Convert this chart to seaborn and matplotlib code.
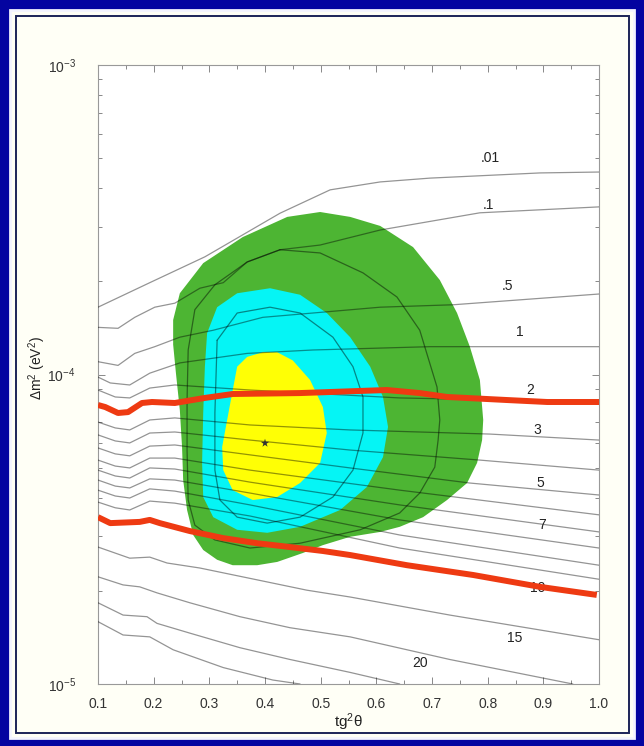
import matplotlib
matplotlib.use("Agg")
import matplotlib.pyplot as plt
from matplotlib.patches import Rectangle
from matplotlib.ticker import FixedLocator, LogLocator, NullFormatter
import seaborn as sns

# ---- iso-lines of the asymmetry (%), tg^2(theta) vs Delta m^2 [eV^2] ----
iso_001_x = [0.100, 0.193, 0.292, 0.427, 0.517, 0.607, 0.696, 0.894, 1.000]
iso_001_y = [1.65e-4, 1.98e-4, 2.40e-4, 3.32e-4, 3.95e-4, 4.19e-4, 4.31e-4, 4.48e-4, 4.51e-4]

iso_01_x = [0.100, 0.136, 0.166, 0.202, 0.238, 0.283, 0.325, 0.368, 0.427, 0.499, 0.607, 0.786, 1.000]
iso_01_y = [1.42e-4, 1.41e-4, 1.53e-4, 1.65e-4, 1.70e-4, 1.90e-4, 1.98e-4, 2.31e-4, 2.53e-4,
            2.62e-4, 2.93e-4, 3.33e-4, 3.48e-4]

iso_05_x = [0.100, 0.136, 0.166, 0.202, 0.247, 0.307, 0.396, 0.486, 0.607, 0.738, 1.000]
iso_05_y = [1.10e-4, 1.07e-4, 1.17e-4, 1.23e-4, 1.32e-4, 1.39e-4, 1.53e-4, 1.58e-4, 1.65e-4,
            1.68e-4, 1.82e-4]

iso_1_x = [0.100, 0.122, 0.157, 0.193, 0.247, 0.368, 0.486, 0.696, 1.000]
iso_1_y = [9.81e-5, 9.39e-5, 9.25e-5, 1.01e-4, 1.09e-4, 1.17e-4, 1.20e-4, 1.23e-4, 1.23e-4]

iso_2_x = [0.100, 0.131, 0.157, 0.193, 0.238, 0.373, 0.642, 1.000]
iso_2_y = [8.91e-5, 8.46e-5, 8.40e-5, 9.04e-5, 9.25e-5, 8.91e-5, 8.40e-5, 8.15e-5]

iso_3_x = [0.100, 0.131, 0.157, 0.193, 0.238, 0.373, 0.553, 0.804, 1.000]
iso_3_y = [7.02e-5, 6.72e-5, 6.62e-5, 7.13e-5, 7.24e-5, 6.87e-5, 6.62e-5, 6.42e-5, 6.14e-5]

iso_4_x = [0.100, 0.131, 0.157, 0.193, 0.238, 0.373, 0.553, 0.786, 1.000]
iso_4_y = [6.38e-5, 6.10e-5, 6.01e-5, 6.47e-5, 6.52e-5, 6.14e-5, 5.70e-5, 5.29e-5, 4.91e-5]

iso_5_x = [0.100, 0.131, 0.157, 0.193, 0.238, 0.373, 0.553, 0.768, 1.000]
iso_5_y = [5.79e-5, 5.54e-5, 5.46e-5, 5.87e-5, 5.92e-5, 5.50e-5, 4.99e-5, 4.46e-5, 4.08e-5]

iso_6_x = [0.100, 0.131, 0.157, 0.193, 0.238, 0.373, 0.642, 1.000]
iso_6_y = [5.29e-5, 5.06e-5, 4.99e-5, 5.37e-5, 5.37e-5, 4.91e-5, 4.23e-5, 3.52e-5]

iso_7_x = [0.100, 0.131, 0.157, 0.193, 0.238, 0.373, 0.642, 1.000]
iso_7_y = [4.91e-5, 4.70e-5, 4.63e-5, 4.99e-5, 4.95e-5, 4.49e-5, 3.79e-5, 3.10e-5]

iso_8_x = [0.100, 0.131, 0.157, 0.193, 0.238, 0.373, 0.642, 1.000]
iso_8_y = [4.56e-5, 4.36e-5, 4.30e-5, 4.60e-5, 4.56e-5, 4.14e-5, 3.39e-5, 2.75e-5]

iso_9_x = [0.100, 0.131, 0.157, 0.193, 0.238, 0.373, 0.642, 1.000]
iso_9_y = [4.23e-5, 4.05e-5, 3.99e-5, 4.27e-5, 4.20e-5, 3.79e-5, 3.03e-5, 2.42e-5]

iso_10_x = [0.100, 0.131, 0.157, 0.193, 0.238, 0.373, 0.642, 1.000]
iso_10_y = [3.87e-5, 3.71e-5, 3.65e-5, 3.90e-5, 3.84e-5, 3.49e-5, 2.75e-5, 2.18e-5]

iso_15_x = [0.100, 0.157, 0.193, 0.224, 0.283, 0.386, 0.475, 0.553, 0.732, 1.000]
iso_15_y = [2.77e-5, 2.55e-5, 2.57e-5, 2.46e-5, 2.37e-5, 2.17e-5, 2.01e-5, 1.91e-5, 1.67e-5, 1.39e-5]

iso_20_x = [0.100, 0.145, 0.175, 0.206, 0.265, 0.355, 0.445, 0.553, 0.732, 0.953]
iso_20_y = [2.22e-5, 2.09e-5, 2.06e-5, 1.97e-5, 1.83e-5, 1.65e-5, 1.52e-5, 1.42e-5, 1.20e-5, 1.00e-5]

iso_25_x = [0.100, 0.145, 0.188, 0.206, 0.265, 0.355, 0.445, 0.553, 0.642]
iso_25_y = [1.83e-5, 1.67e-5, 1.65e-5, 1.57e-5, 1.46e-5, 1.31e-5, 1.20e-5, 1.09e-5, 1.00e-5]

iso_30_x = [0.100, 0.145, 0.193, 0.235, 0.325, 0.414, 0.463]
iso_30_y = [1.59e-5, 1.44e-5, 1.42e-5, 1.29e-5, 1.13e-5, 1.03e-5, 1.00e-5]

iso_lines = [
    (iso_001_x, iso_001_y), (iso_01_x, iso_01_y), (iso_05_x, iso_05_y), (iso_1_x, iso_1_y),
    (iso_2_x, iso_2_y), (iso_3_x, iso_3_y), (iso_4_x, iso_4_y), (iso_5_x, iso_5_y),
    (iso_6_x, iso_6_y), (iso_7_x, iso_7_y), (iso_8_x, iso_8_y), (iso_9_x, iso_9_y),
    (iso_10_x, iso_10_y), (iso_15_x, iso_15_y), (iso_20_x, iso_20_y), (iso_25_x, iso_25_y),
    (iso_30_x, iso_30_y),
]

# iso-line labels and where they sit
iso_labels = [".01", ".1", ".5", "1", "2", "3", "5", "7", "10", "15", "20"]
iso_label_x = [0.804, 0.801, 0.836, 0.858, 0.876, 0.890, 0.894, 0.898, 0.889, 0.849, 0.678]
iso_label_y = [5.00e-4, 3.53e-4, 1.93e-4, 1.37e-4, 8.91e-5, 6.62e-5, 4.46e-5, 3.26e-5, 2.04e-5,
               1.41e-5, 1.17e-5]

# ---- allowed regions (outer to inner) ----
region_99_x = [0.499, 0.553, 0.607, 0.666, 0.714, 0.745, 0.768, 0.786, 0.792, 0.790, 0.781,
               0.763, 0.727, 0.684, 0.642, 0.607, 0.553, 0.504, 0.468, 0.422, 0.386, 0.342,
               0.314, 0.289, 0.271, 0.260, 0.253, 0.251, 0.247, 0.240, 0.235, 0.235, 0.247,
               0.289, 0.360, 0.440]
region_99_y = [3.35e-4, 3.23e-4, 3.02e-4, 2.58e-4, 2.02e-4, 1.58e-4, 1.23e-4, 9.60e-5, 7.13e-5,
               6.14e-5, 5.18e-5, 4.46e-5, 3.93e-5, 3.46e-5, 3.22e-5, 3.10e-5, 2.99e-5, 2.81e-5,
               2.65e-5, 2.48e-5, 2.42e-5, 2.42e-5, 2.52e-5, 2.71e-5, 3.03e-5, 3.65e-5, 4.56e-5,
               5.83e-5, 7.68e-5, 1.01e-4, 1.25e-4, 1.50e-4, 1.83e-4, 2.29e-4, 2.78e-4, 3.23e-4]

region_95_x = [0.296, 0.314, 0.350, 0.409, 0.463, 0.511, 0.553, 0.589, 0.612, 0.621, 0.612,
               0.583, 0.535, 0.463, 0.404, 0.350, 0.307, 0.289, 0.287, 0.289, 0.292]
region_95_y = [1.36e-4, 1.65e-4, 1.83e-4, 1.90e-4, 1.81e-4, 1.58e-4, 1.32e-4, 1.06e-4, 8.46e-5,
               6.77e-5, 5.41e-5, 4.33e-5, 3.65e-5, 3.22e-5, 3.08e-5, 3.15e-5, 3.46e-5, 4.02e-5,
               5.18e-5, 7.51e-5, 1.06e-4]

region_68_x = [0.396, 0.368, 0.350, 0.341, 0.332, 0.323, 0.325, 0.342, 0.378, 0.422, 0.463,
               0.499, 0.511, 0.504, 0.481, 0.450, 0.422]
region_68_y = [1.18e-4, 1.14e-4, 1.06e-4, 8.71e-5, 7.13e-5, 5.83e-5, 4.91e-5, 4.23e-5, 3.93e-5,
               4.02e-5, 4.46e-5, 5.18e-5, 6.47e-5, 7.85e-5, 9.60e-5, 1.11e-4, 1.18e-4]

# intermediate confidence contours drawn as outlines
contour_a_x = [0.427, 0.499, 0.576, 0.637, 0.678, 0.709, 0.714, 0.711, 0.705, 0.678, 0.642,
               0.571, 0.463, 0.373, 0.310, 0.274, 0.262, 0.260, 0.260, 0.262, 0.274, 0.310,
               0.368, 0.427]
contour_a_y = [2.53e-4, 2.47e-4, 2.13e-4, 1.78e-4, 1.39e-4, 9.11e-5, 7.13e-5, 6.14e-5, 5.02e-5,
               4.14e-5, 3.57e-5, 3.15e-5, 2.85e-5, 2.75e-5, 2.92e-5, 3.26e-5, 3.93e-5, 5.70e-5,
               8.27e-5, 1.20e-4, 1.62e-4, 1.95e-4, 2.31e-4, 2.53e-4]

contour_b_x = [0.314, 0.350, 0.409, 0.463, 0.522, 0.558, 0.576, 0.576, 0.558, 0.522, 0.463,
               0.404, 0.350, 0.319, 0.310, 0.310, 0.314]
contour_b_y = [1.29e-4, 1.58e-4, 1.65e-4, 1.58e-4, 1.32e-4, 1.06e-4, 8.46e-5, 6.47e-5, 4.91e-5,
               4.02e-5, 3.46e-5, 3.31e-5, 3.46e-5, 3.93e-5, 4.91e-5, 7.51e-5, 1.29e-4]

best_fit_x = [0.40]
best_fit_y = [6.0e-5]

# ---- red bands ----
red_upper_x = [0.100, 0.113, 0.136, 0.154, 0.179, 0.197, 0.238, 0.292, 0.342, 0.463, 0.619,
               0.678, 0.727, 0.835, 0.907, 1.000]
red_upper_y = [7.97e-5, 7.85e-5, 7.51e-5, 7.56e-5, 8.09e-5, 8.15e-5, 8.09e-5, 8.40e-5, 8.65e-5,
               8.71e-5, 8.91e-5, 8.71e-5, 8.46e-5, 8.27e-5, 8.15e-5, 8.15e-5]

red_lower_x = [0.100, 0.122, 0.175, 0.193, 0.211, 0.265, 0.325, 0.386, 0.445, 0.504, 0.553,
               0.655, 0.774, 0.894, 0.996]
red_lower_y = [3.46e-5, 3.31e-5, 3.34e-5, 3.39e-5, 3.31e-5, 3.12e-5, 2.96e-5, 2.85e-5, 2.77e-5,
               2.69e-5, 2.61e-5, 2.42e-5, 2.25e-5, 2.06e-5, 1.94e-5]

x_ticks = [0.1, 0.2, 0.3, 0.4, 0.5, 0.6, 0.7, 0.8, 0.9, 1.0]
x_tick_labels = ["0.1", "0.2", "0.3", "0.4", "0.5", "0.6", "0.7", "0.8", "0.9", "1.0"]
y_ticks = [1e-5, 1e-4, 1e-3]
y_tick_labels = [r"$10^{-5}$", r"$10^{-4}$", r"$10^{-3}$"]

# ---------------------------------------------------------------------------
sns.set_theme(style="ticks")
plt.rcParams["font.family"] = ["Liberation Sans", "DejaVu Sans"]
plt.rcParams["mathtext.fontset"] = "custom"
plt.rcParams["mathtext.rm"] = "Liberation Sans"
plt.rcParams["mathtext.it"] = "Liberation Sans:italic"

W, H = 644, 746
fig = plt.figure(figsize=(W / 100, H / 100), dpi=100, facecolor="#0404a0")

# slide panel with its thin border lines (kept behind the axes)
fig.patches.append(Rectangle((10 / W, 8 / H), 624 / W, 728 / H, transform=fig.transFigure,
                             facecolor="#fffff6", edgecolor="#f4f4ff", lw=2.0, zorder=-3))
fig.patches.append(Rectangle((15.5 / W, 13 / H), 613 / W, 717 / H, transform=fig.transFigure,
                             facecolor="none", edgecolor="#1c2458", lw=1.4, zorder=-2))

ax = fig.add_axes([98 / W, 1 - 684 / H, 501 / W, 619 / H])
ax.set_facecolor("white")
ax.set_yscale("log")

# filled regions
ax.fill(region_99_x, region_99_y, color="#4db533", lw=0, zorder=1)
ax.fill(region_95_x, region_95_y, color="#05f5f5", lw=0, zorder=1.1)
ax.fill(region_68_x, region_68_y, color="#ffff05", lw=0, zorder=1.2)

# contour outlines inside the regions
for cx, cy in [(contour_a_x, contour_a_y), (contour_b_x, contour_b_y)]:
    sns.lineplot(x=cx, y=cy, sort=False, estimator=None, ax=ax, color="black",
                 alpha=0.45, lw=0.9, zorder=2)

# iso-lines
for lx, ly in iso_lines:
    sns.lineplot(x=lx, y=ly, sort=False, estimator=None, ax=ax, color="black",
                 alpha=0.42, lw=0.9, zorder=3)

for txt, tx, ty in zip(iso_labels, iso_label_x, iso_label_y):
    ax.text(tx, ty, txt, ha="center", va="center", fontsize=10, color="#222222", zorder=4)

# red bands
for rx, ry in [(red_upper_x, red_upper_y), (red_lower_x, red_lower_y)]:
    sns.lineplot(x=rx, y=ry, sort=False, estimator=None, ax=ax, color="#ee3a12",
                 lw=4.3, zorder=5, solid_capstyle="butt")

# best fit point
sns.scatterplot(x=best_fit_x, y=best_fit_y, ax=ax, marker="*", s=40, color="#333333",
                edgecolor="none", zorder=6)

ax.set_xlim(0.1, 1.0)
ax.set_ylim(1e-5, 1e-3)

ax.xaxis.set_major_locator(FixedLocator(x_ticks))
ax.xaxis.set_minor_locator(FixedLocator([0.15, 0.25, 0.35, 0.45, 0.55, 0.65, 0.75, 0.85, 0.95]))
ax.set_xticklabels(x_tick_labels)
ax.yaxis.set_major_locator(FixedLocator(y_ticks))
ax.set_yticklabels(y_tick_labels)
ax.yaxis.set_minor_locator(LogLocator(base=10, subs=[2, 3, 4, 5, 6, 7, 8, 9]))
ax.yaxis.set_minor_formatter(NullFormatter())

ax.tick_params(which="both", direction="in", top=True, right=True, color="#888888", width=0.7)
ax.tick_params(which="major", length=5)
ax.tick_params(which="minor", length=3)
ax.tick_params(axis="x", labelsize=10, pad=9, labelcolor="#333333")
ax.tick_params(axis="y", labelsize=10, pad=16, labelcolor="#333333")
for s in ax.spines.values():
    s.set_color("#999999")
    s.set_linewidth(0.8)

ax.set_xlabel("tg$^2$θ", fontsize=11, color="#222222", labelpad=1)
ax.set_ylabel("Δm$^2$ (eV$^2$)", fontsize=10, color="#222222")
ax.yaxis.set_label_coords(-0.10, 0.51)

fig.savefig("out.png", dpi=100, facecolor=fig.get_facecolor())
